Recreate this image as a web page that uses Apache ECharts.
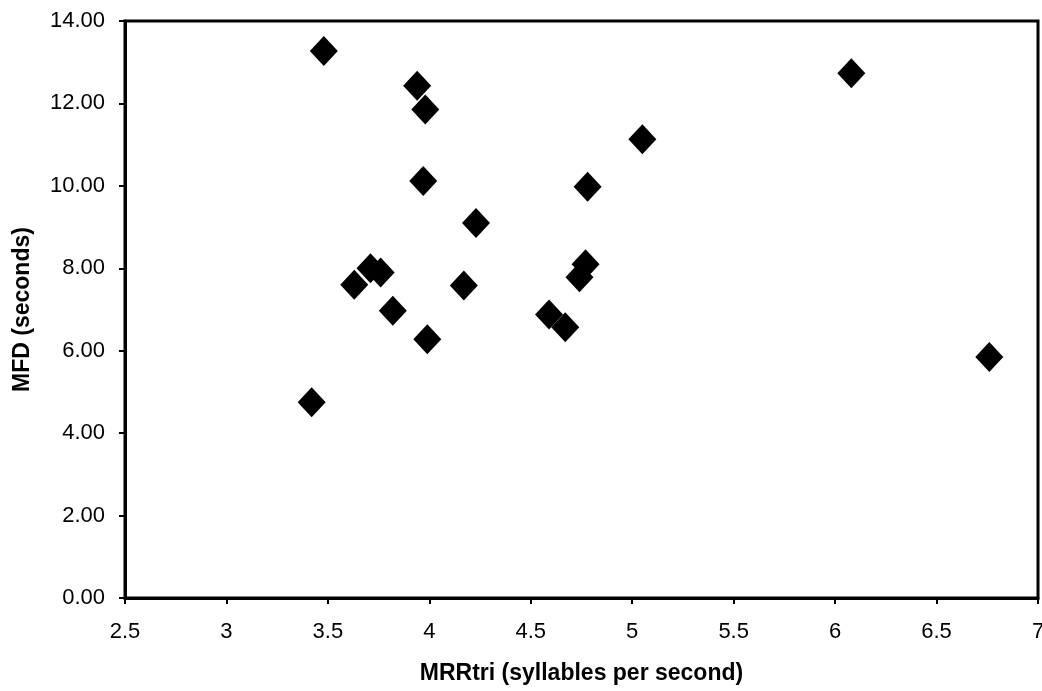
<!DOCTYPE html>
<html>
<head>
<meta charset="utf-8">
<title>MFD vs MRRtri</title>
<script src="https://cdn.jsdelivr.net/npm/echarts@6/dist/echarts.min.js"></script>
<style>
  html, body { margin: 0; padding: 0; background: #fff; }
  #chart { width: 1042px; height: 691px; }
</style>
</head>
<body>
<div id="chart"></div>
<script>
// MRRtri (syllables per second)
var mrr = [3.42, 3.48, 3.63, 3.71, 3.76, 3.82, 3.94, 3.98, 3.97, 3.99,
           4.17, 4.23, 4.59, 4.67, 4.78, 4.77, 4.74, 5.05, 6.08, 6.76];
// MFD (seconds)
var mfd = [4.75, 13.27, 7.60, 8.00, 7.90, 6.97, 12.43, 11.85, 10.12, 6.28,
           7.58, 9.10, 6.88, 6.57, 9.98, 8.10, 7.78, 11.13, 12.73, 5.85];

var xTicks = [2.5, 3, 3.5, 4, 4.5, 5, 5.5, 6, 6.5, 7];
var yTicks = [0, 2, 4, 6, 8, 10, 12, 14];

var points = mrr.map(function (v, i) { return [v, mfd[i]]; });

var font = "'Liberation Sans', Arial, sans-serif";

var chart = echarts.init(document.getElementById('chart'));
chart.setOption({
  animation: false,
  backgroundColor: '#fff',
  grid: {
    left: 125, right: 4, top: 21, bottom: 93,
    outerBoundsMode: 'none',
    containLabel: false,
    show: true, borderColor: '#000', borderWidth: 3
  },
  xAxis: {
    type: 'value',
    min: xTicks[0], max: xTicks[xTicks.length - 1], interval: 0.5,
    name: 'MRRtri (syllables per second)',
    nameLocation: 'middle', nameGap: 64,
    nameTextStyle: { color: '#000', fontFamily: font, fontWeight: 'bold', fontSize: 23 },
    axisLine: { lineStyle: { color: '#000', width: 3 } },
    axisTick: { show: true, length: 6, lineStyle: { color: '#000', width: 2 } },
    axisLabel: { color: '#000', fontFamily: font, fontSize: 22, margin: 23 },
    splitLine: { show: false }
  },
  yAxis: {
    type: 'value',
    min: yTicks[0], max: yTicks[yTicks.length - 1], interval: 2,
    name: 'MFD (seconds)',
    nameLocation: 'middle', nameGap: 91, nameRotate: 90,
    nameTextStyle: { color: '#000', fontFamily: font, fontWeight: 'bold', fontSize: 23 },
    axisLine: { lineStyle: { color: '#000', width: 3 } },
    axisTick: { show: true, length: 6, lineStyle: { color: '#000', width: 2 } },
    axisLabel: {
      color: '#000', fontFamily: font, fontSize: 22, margin: 20,
      formatter: function (v) { return v.toFixed(2); }
    },
    splitLine: { show: false }
  },
  series: [{
    type: 'scatter',
    data: points,
    symbol: 'diamond',
    symbolSize: [28, 30],
    itemStyle: { color: '#000', opacity: 1 }
  }]
});
</script>
</body>
</html>
